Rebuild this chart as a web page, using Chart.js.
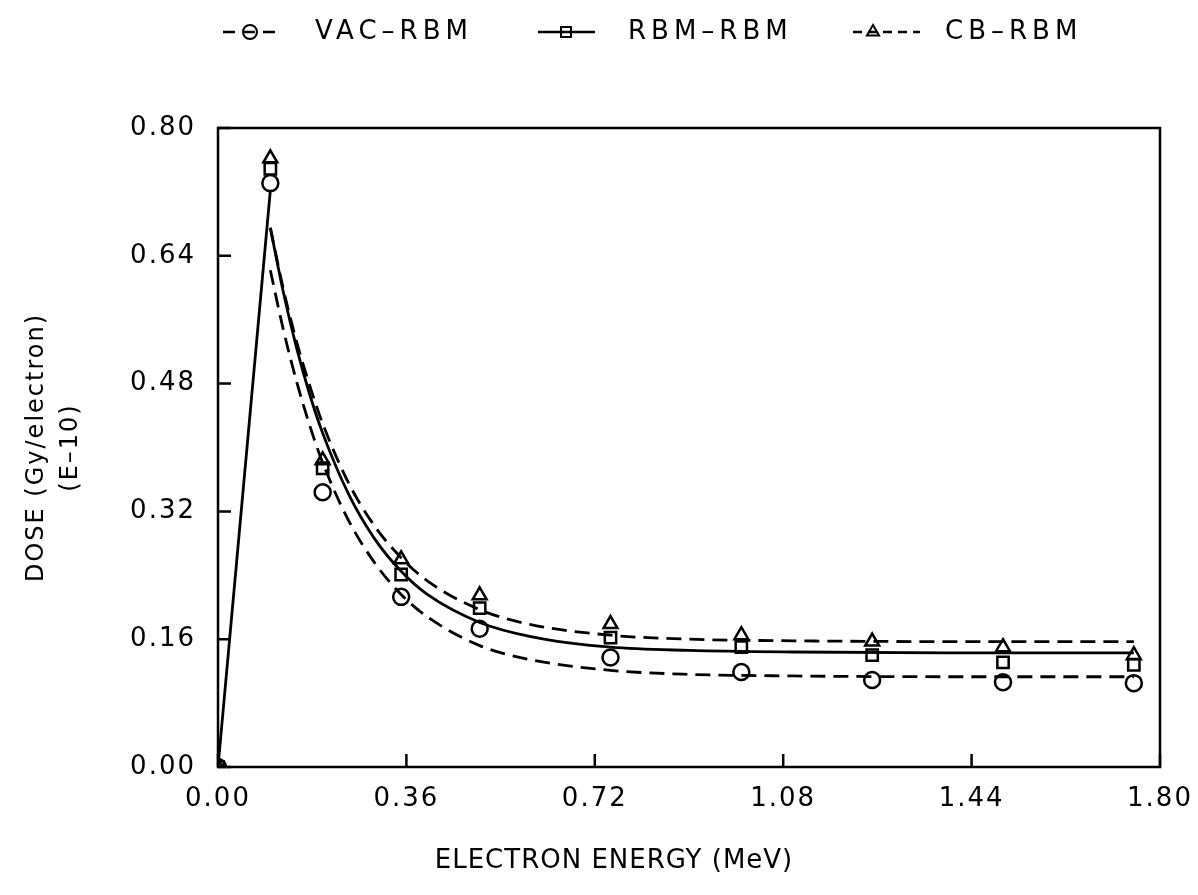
<!DOCTYPE html>
<html>
<head>
<meta charset="utf-8">
<script src="https://cdn.jsdelivr.net/npm/chart.js@4.4.1/dist/chart.umd.min.js"></script>
<style>
    html, body { margin: 0; padding: 0; background: #fff; }
    canvas { display: block; }
</style>
</head>
<body>
<canvas id="doseChart" width="1198" height="895"></canvas>
<script>
// Measured points (electron energy in MeV, dose in Gy/electron E-10)
const energies = [0, 0.1, 0.2, 0.35, 0.5, 0.75, 1.0, 1.25, 1.5, 1.75];
const vacDose = [0, 0.731, 0.344, 0.213, 0.173, 0.137, 0.119, 0.109, 0.106, 0.105];
const rbmDose = [0, 0.749, 0.374, 0.241, 0.199, 0.162, 0.150, 0.140, 0.131, 0.128];
const cbDose  = [0, 0.762, 0.384, 0.260, 0.215, 0.179, 0.165, 0.157, 0.150, 0.140];

// Fitted curves
const fitEnergies = [0.1, 0.125, 0.15, 0.175, 0.2, 0.25, 0.3, 0.35, 0.4, 0.5, 0.6, 0.75, 0.9, 1.1, 1.4, 1.75];
const vacFit = [0.622, 0.547, 0.483, 0.428, 0.381, 0.308, 0.255, 0.216, 0.188, 0.152, 0.134, 0.121, 0.116, 0.114, 0.113, 0.113];
const rbmFit = [0.675, 0.594, 0.525, 0.467, 0.418, 0.341, 0.285, 0.245, 0.216, 0.181, 0.163, 0.150, 0.146, 0.144, 0.143, 0.143];
const cbFit  = [0.675, 0.598, 0.533, 0.478, 0.430, 0.355, 0.301, 0.262, 0.233, 0.197, 0.178, 0.165, 0.160, 0.158, 0.157, 0.157];

// Straight rise from the origin to the peak
const riseEnergies = [0, 0.1];
const riseDose = [0, 0.722];

// Axis ticks
const xTickValues = [0, 0.36, 0.72, 1.08, 1.44, 1.80];
const yTickValues = [0, 0.16, 0.32, 0.48, 0.64, 0.80];

const seriesLabels = ['VAC\u2013RBM', 'RBM\u2013RBM', 'CB\u2013RBM'];
const xTitle = 'ELECTRON ENERGY (MeV)';
const yTitle = ['DOSE (Gy/electron)', '(E\u201310)'];

const FONT = "'DejaVu Sans', sans-serif";
const FONT_SIZE = 26;
const dashed = [15, 8];

function toPoints(xs, ys) {
    return xs.map((x, i) => ({ x: x, y: ys[i] }));
}

function curve(xs, ys, dash) {
    return {
        data: toPoints(xs, ys),
        showLine: true,
        borderColor: '#000',
        borderWidth: 2.8,
        borderDash: dash,
        pointRadius: 0,
        fill: false,
        cubicInterpolationMode: 'monotone'
    };
}

function markers(label, ys, style) {
    return {
        label: label,
        data: toPoints(energies, ys),
        showLine: false,
        pointStyle: style,
        pointRadius: 8,
        pointBorderWidth: 2.5,
        pointBorderColor: '#000',
        pointBackgroundColor: 'rgba(0,0,0,0)'
    };
}

// Frame, inward tick marks, x title and the legend across the top
const framePlugin = {
    id: 'frame',
    beforeDraw(chart) {
        chart.ctx.letterSpacing = '2px';
    },
    afterDraw(chart) {
        const { ctx, chartArea: a, scales: { x, y } } = chart;
        ctx.save();
        ctx.letterSpacing = '0px';
        ctx.strokeStyle = '#000';
        ctx.lineWidth = 2.5;
        ctx.setLineDash([]);
        ctx.strokeRect(a.left, a.top, a.right - a.left, a.bottom - a.top);

        ctx.beginPath();
        xTickValues.forEach(v => {
            const px = x.getPixelForValue(v);
            ctx.moveTo(px, a.bottom);
            ctx.lineTo(px, a.bottom - 13);
        });
        yTickValues.forEach(v => {
            const py = y.getPixelForValue(v);
            ctx.moveTo(a.left, py);
            ctx.lineTo(a.left + 13, py);
        });
        ctx.stroke();

        ctx.fillStyle = '#000';
        ctx.font = FONT_SIZE + 'px ' + FONT;
        ctx.textBaseline = 'middle';

        // X axis title (sits left of the plot centre in the original)
        ctx.textAlign = 'center';
        ctx.letterSpacing = '1px';
        ctx.fillText(xTitle, 614, 861);

        // Legend
        const ly = 32;
        const items = [
            { style: 'circle', x0: 223, x1: 277, cx: 250, dash: [12, 8], tx: 315 },
            { style: 'rect', x0: 538, x1: 595, cx: 566, dash: [], tx: 628 },
            { style: 'triangle', x0: 853, x1: 920, cx: 873, dash: [9, 6], tx: 945 }
        ];
        items.forEach((it, i) => {
            ctx.letterSpacing = '0px';
            ctx.lineWidth = 2.5;
            ctx.setLineDash(it.dash);
            ctx.beginPath();
            ctx.moveTo(it.x0, ly);
            ctx.lineTo(it.x1, ly);
            ctx.stroke();
            ctx.setLineDash([]);
            ctx.fillStyle = 'rgba(0,0,0,0)';
            ctx.lineWidth = 2;
            Chart.helpers.drawPoint(ctx, { pointStyle: it.style, radius: 7, borderWidth: 2, rotation: 0 }, it.cx, ly);
            ctx.fillStyle = '#000';
            ctx.letterSpacing = '5px';
            ctx.textAlign = 'left';
            ctx.fillText(seriesLabels[i], it.tx, ly);
        });
        ctx.restore();
        ctx.letterSpacing = '0px';
    }
};

new Chart(document.getElementById('doseChart'), {
    type: 'scatter',
    data: {
        datasets: [
            curve(riseEnergies, riseDose, []),
            curve(fitEnergies, vacFit, dashed),
            curve(fitEnergies, rbmFit, []),
            curve(fitEnergies, cbFit, dashed),
            markers(seriesLabels[0], vacDose, 'circle'),
            markers(seriesLabels[1], rbmDose, 'rect'),
            markers(seriesLabels[2], cbDose, 'triangle')
        ]
    },
    options: {
        responsive: false,
        animation: false,
        layout: {
            padding: { top: 128, right: 38, left: 0, bottom: 0 }
        },
        plugins: {
            legend: { display: false },
            tooltip: { enabled: false }
        },
        scales: {
            x: {
                type: 'linear',
                min: 0,
                max: 1.8,
                afterBuildTicks: scale => {
                    scale.ticks = xTickValues.map(v => ({ value: v }));
                },
                afterFit: scale => {
                    scale.height = 128;
                    scale.paddingLeft = 0;
                    scale.paddingRight = 0;
                },
                grid: { display: false, drawTicks: false },
                border: { display: false },
                ticks: {
                    padding: 17,
                    color: '#000',
                    autoSkip: false,
                    maxRotation: 0,
                    font: { family: FONT, size: FONT_SIZE },
                    callback: v => v.toFixed(2)
                },
                title: { display: false }
            },
            y: {
                type: 'linear',
                min: 0,
                max: 0.8,
                afterBuildTicks: scale => {
                    scale.ticks = yTickValues.map(v => ({ value: v }));
                },
                afterFit: scale => {
                    scale.width = 218;
                    scale.paddingTop = 0;
                    scale.paddingBottom = 0;
                },
                grid: { display: false, drawTicks: false },
                border: { display: false },
                ticks: {
                    padding: 22,
                    color: '#000',
                    autoSkip: false,
                    font: { family: FONT, size: FONT_SIZE },
                    callback: v => v.toFixed(2)
                },
                title: {
                    display: true,
                    text: yTitle,
                    color: '#000',
                    font: { family: FONT, size: 24, lineHeight: 1.4 },
                    padding: { top: 20, bottom: 0 }
                }
            }
        }
    },
    plugins: [framePlugin]
});
</script>
</body>
</html>
